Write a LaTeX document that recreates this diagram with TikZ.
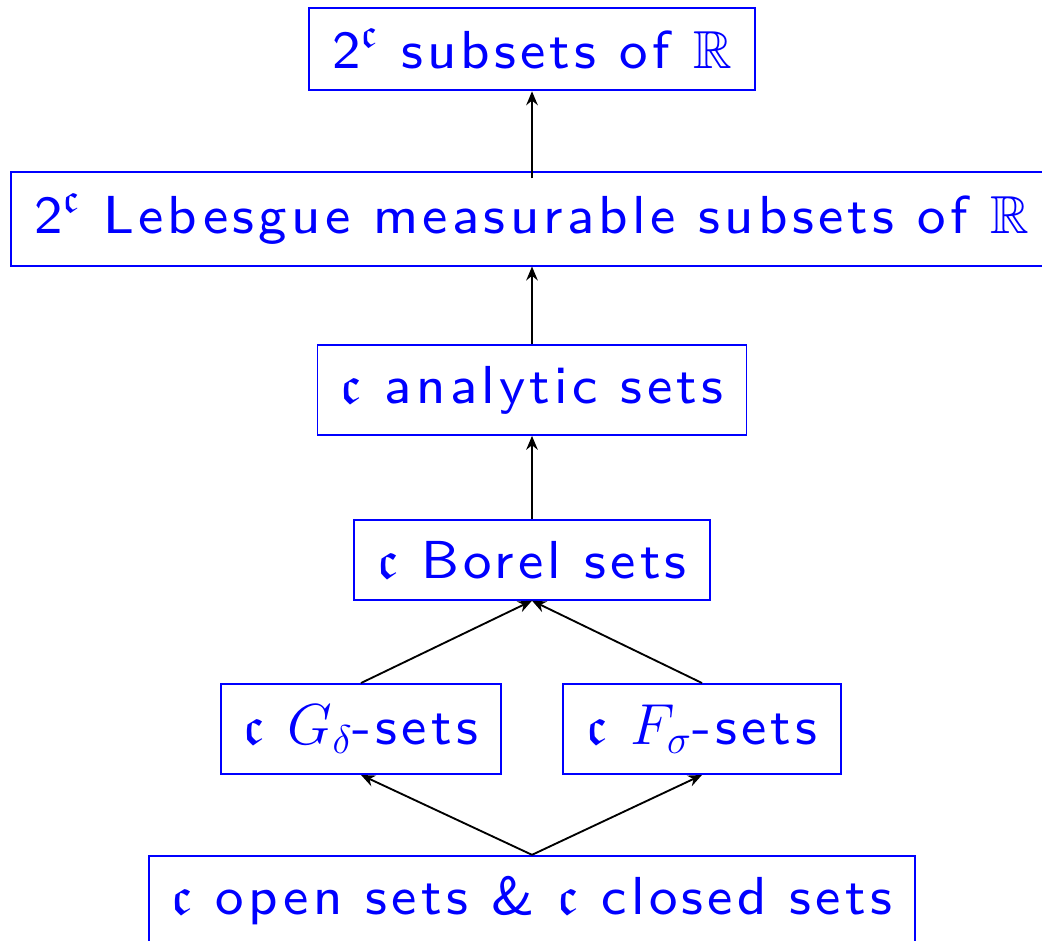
\documentclass[tikz,border=0pt]{standalone}
\usepackage{amssymb}
\usepackage{fontspec}
\usetikzlibrary{arrows.meta}
\newfontfamily\setsfont{lmsans8-regular}[Extension=.otf, LetterSpace=8]
\DeclareMathSizes{23}{23}{17.5}{12}
\begin{document}
\begin{tikzpicture}[
        x=0.43pt, y=-0.43pt,
        set/.style={draw=blue, text=blue, line width=0.8pt, inner xsep=10pt, inner ysep=9pt,
          font=\fontsize{23}{28}\selectfont\setsfont},
        edge/.style={line width=0.8pt, -{Stealth[length=6pt, width=5pt, inset=2pt]}}
      ]
      \useasboundingbox (0,0) rectangle (1042,941);
      \node[set] (all) at (532,49) {2$^\mathfrak{c}$ subsets of $\mathbb{R}$};
      \node[set] (leb) at (532,219) {2$^\mathfrak{c}$ Lebesgue measurable subsets of $\mathbb{R}$};
      \node[set] (ana) at (532,390) {$\mathfrak{c}$ analytic sets};
      \node[set] (bor) at (532,560) {$\mathfrak{c}$ Borel sets};
      \node[set] (gd) at (361,729) {$\mathfrak{c}$ $G_\delta$-sets};
      \node[set] (fs) at (702,729) {$\mathfrak{c}$ $F_\sigma$-sets};
      \node[set] (open) at (532,901) {$\mathfrak{c}$ open sets \& $\mathfrak{c}$ closed sets};
      \draw[edge] ([yshift=-3pt]leb.north) -- (all.south);
      \draw[edge] (ana.north) -- (leb.south);
      \draw[edge] (bor.north) -- (ana.south);
      \draw[edge] (gd.north) -- (bor.south);
      \draw[edge] (fs.north) -- (bor.south);
      \draw[edge] (open.north) -- (gd.south);
      \draw[edge] (open.north) -- (fs.south);
    \end{tikzpicture}
\end{document}
